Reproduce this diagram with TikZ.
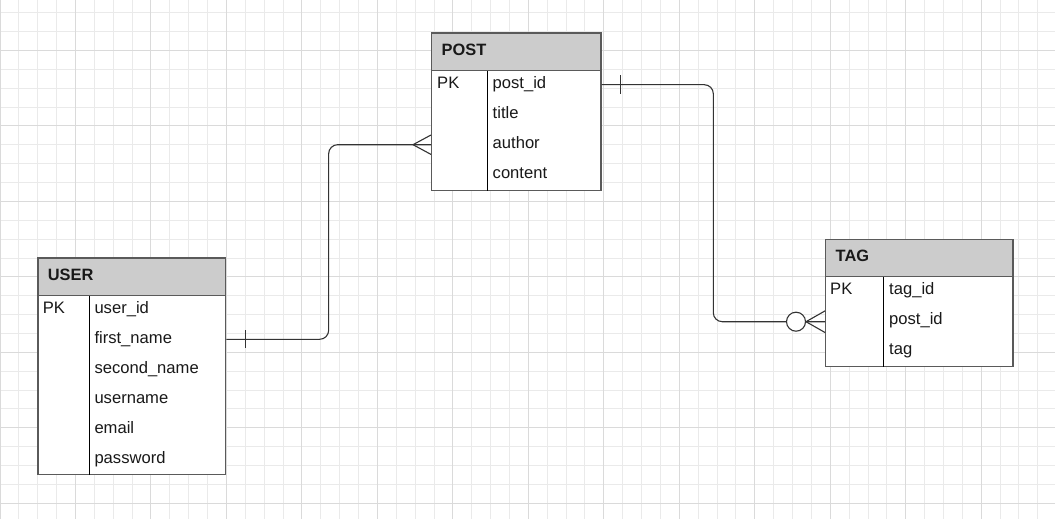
\documentclass[tikz,border=0pt]{standalone}
\usepackage{fontspec}
\setmainfont{Liberation Sans}
\usetikzlibrary{calc}
\definecolor{gridminor}{HTML}{EAEAEA}
\definecolor{gridmajor}{HTML}{DADADA}
\definecolor{bordercol}{HTML}{5A5A5A}
\definecolor{hdrgray}{HTML}{CCCCCC}
\definecolor{conncol}{HTML}{333333}
\tikzset{
  tbl/.style={draw=bordercol, line width=1.3pt, fill=white, inner sep=0pt, anchor=north west},
  hdr/.style={draw=bordercol, line width=1.3pt, fill=hdrgray, inner sep=0pt, anchor=north west},
  divline/.style={draw=black, line width=1pt},
  txt/.style={anchor=base west, inner sep=0pt, font=\fontsize{16.6}{19}\selectfont, text=black!90},
  htxt/.style={txt, font=\fontsize{16.4}{19}\selectfont\bfseries},
  conn/.style={draw=conncol, line width=1.1pt, rounded corners=9pt},
  tickmark/.style={draw=conncol, line width=1.1pt},
}
\begin{document}
\begin{tikzpicture}[x=1pt,y=-1pt]
\useasboundingbox (0,0) rectangle (1055,519);
\fill[white] (0,0) rectangle (1055,519);
% grid
\foreach \k in {0,...,55} {
  \pgfmathsetmacro\xx{18.87*\k}
  \draw[gridminor, line width=1pt] (\xx,0) -- (\xx,519);
}
\foreach \k in {0,...,26} {
  \pgfmathsetmacro\yy{12.7+18.87*\k}
  \draw[gridminor, line width=1pt] (0,\yy) -- (1055,\yy);
}
\foreach \k in {0,...,13} {
  \pgfmathsetmacro\xx{75.48*\k}
  \draw[gridmajor, line width=1pt] (\xx,0) -- (\xx,519);
}
\foreach \k in {-1,...,6} {
  \pgfmathsetmacro\yy{50.44+75.48*\k}
  \draw[gridmajor, line width=1pt] (0,\yy) -- (1055,\yy);
}

% POST table
\node[tbl, minimum width=169.3pt, minimum height=157.4pt] (post) at (431,32.3) {};
\node[hdr, minimum width=169.3pt, minimum height=37.7pt] (posth) at (431,32.3) {};
\draw[divline] ([xshift=56.4pt]posth.south west) -- ([xshift=56.4pt]post.south west);
\node[htxt] (posttitle) at (441.5,55.3) {POST};
\node[txt] (postpk) at (437,88.8) {PK};
\node[txt] (postf1) at (492.5,88.8) {post\_id};
\node[txt] (postf2) at (492.5,118.8) {title};
\node[txt] (postf3) at (492.5,148.8) {author};
\node[txt] (postf4) at (492.5,178.8) {content};

% USER table
\node[tbl, minimum width=187.7pt, minimum height=216.7pt] (user) at (37.3,257.3) {};
\node[hdr, minimum width=187.7pt, minimum height=37.7pt] (userh) at (37.3,257.3) {};
\draw[divline] ([xshift=52pt]userh.south west) -- ([xshift=52pt]user.south west);
\node[htxt] (usertitle) at (47.7,280.7) {USER};
\node[txt] (userpk) at (42.7,313.8) {PK};
\node[txt] (userf1) at (94.3,313.8) {user\_id};
\node[txt] (userf2) at (94.3,343.8) {first\_name};
\node[txt] (userf3) at (94.3,373.8) {second\_name};
\node[txt] (userf4) at (94.3,403.8) {username};
\node[txt] (userf5) at (94.3,433.8) {email};
\node[txt] (userf6) at (94.3,463.8) {password};

% TAG table
\node[tbl, minimum width=187.3pt, minimum height=127.3pt] (tag) at (825,238.7) {};
\node[hdr, minimum width=187.3pt, minimum height=37.3pt] (tagh) at (825,238.7) {};
\draw[divline] ([xshift=58.7pt]tagh.south west) -- ([xshift=58.7pt]tag.south west);
\node[htxt] (tagtitle) at (835.5,261.7) {TAG};
\node[txt] (tagpk) at (830,294.8) {PK};
\node[txt] (tagf1) at (889,294.8) {tag\_id};
\node[txt] (tagf2) at (889,324.8) {post\_id};
\node[txt] (tagf3) at (889,354.8) {tag};

% attachment points
\coordinate (uA) at (user.east |- 0,339.3);
\coordinate (pB) at (post.west |- 0,144.7);
\coordinate (pC) at (post.east |- 0,84.7);
\coordinate (tD) at (tag.west |- 0,321.7);
\coordinate (m1) at ($(uA)!0.5!(pB)$);
\coordinate (m2) at ($(pC)!0.5!(tD)$);

% USER -> POST (one to many)
\draw[conn] (uA) -- (uA -| m1) -- (pB -| m1) -- (pB);
\draw[tickmark] ([xshift=19pt,yshift=9pt]uA) -- ([xshift=19pt,yshift=-9pt]uA);
\draw[tickmark] ([xshift=-18pt]pB) -- ([yshift=9.7pt]pB);
\draw[tickmark] ([xshift=-18pt]pB) -- ([yshift=-9.7pt]pB);

% POST -> TAG (one to zero-or-many)
\draw[conn] (pC) -- (pC -| m2) -- (tD -| m2) -- (tD);
\draw[tickmark] ([xshift=19.3pt,yshift=9.2pt]pC) -- ([xshift=19.3pt,yshift=-9.2pt]pC);
\draw[tickmark] ([xshift=-19pt]tD) -- ([yshift=10.8pt]tD);
\draw[tickmark] ([xshift=-19pt]tD) -- ([yshift=-10.8pt]tD);
\node[draw=conncol, line width=1.1pt, fill=white, circle, minimum size=19pt, inner sep=0pt] (zero) at ([xshift=-29pt]tD) {};
\end{tikzpicture}
\end{document}
